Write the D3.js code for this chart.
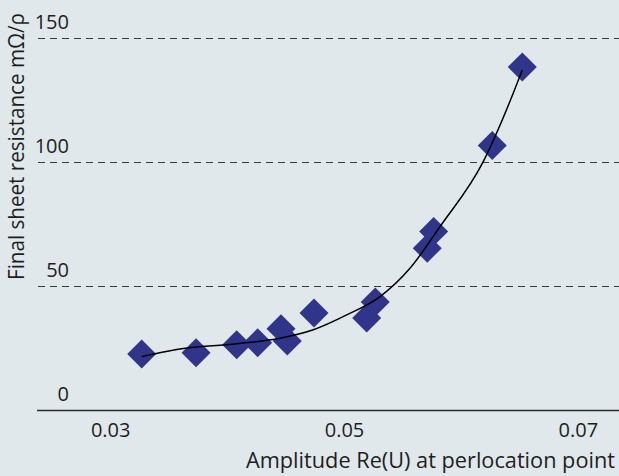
<!DOCTYPE html>
<html>
<head>
<meta charset="utf-8">
<script src="https://cdn.jsdelivr.net/npm/d3@7"></script>
<style>
  html, body { margin: 0; padding: 0; background: #e1e8eb; }
  svg { display: block; }
  text { font-family: "Open Sans", "Noto Sans", sans-serif; fill: #1e1e1e; }
</style>
</head>
<body>
<svg id="chart" width="619" height="476"></svg>
<script>
// Measured points (amplitude Re(U), final sheet resistance)
const amplitude = [0.03265, 0.03730, 0.04078, 0.04257, 0.04457, 0.04511, 0.04739, 0.05190, 0.05263, 0.05708, 0.05763, 0.06264, 0.06521];
const resistance = [22.6, 23.1, 26.3, 27.1, 32.7, 27.8, 39.1, 37.1, 43.5, 65.2, 71.9, 106.6, 138.2];

// Fitted trend line
const fitX = [0.03265, 0.03565, 0.04078, 0.04448, 0.04733, 0.05019, 0.05304, 0.05560, 0.05817, 0.06187, 0.06444, 0.06521];
const fitY = [21.5, 24.4, 26.7, 28.9, 32.3, 38.3, 45.7, 57.1, 73.9, 100.1, 127.7, 137.0];

const xTicks = [0.03, 0.05, 0.07];
const xTickLabels = ["0.03", "0.05", "0.07"];
const yTicks = [0, 50, 100, 150];
const yTickLabels = ["0", "50", "100", "150"];

const xTitle = "Amplitude Re(U) at perlocation point";
const yTitle = "Final sheet resistance mΩ/ρ";

const svg = d3.select("#chart");
const W = 619, H = 476;

const x = d3.scaleLinear().domain([0.03, 0.07]).range([110.7, 578.3]);
const y = d3.scaleLinear().domain([0, 150]).range([410, 37.7]);

svg.append("rect").attr("width", W).attr("height", H).attr("fill", "#e1e8eb");

// gridlines (dashed) for 50,100,150
svg.append("g").selectAll("line")
  .data(yTicks.filter(d => d > 0))
  .join("line")
  .attr("x1", 38).attr("x2", W)
  .attr("y1", d => Math.round(y(d)) + 0.5).attr("y2", d => Math.round(y(d)) + 0.5)
  .attr("stroke", "#3a3a3a").attr("stroke-width", 1.2)
  .attr("stroke-dasharray", "7,5");

// x axis line
svg.append("line")
  .attr("x1", 37).attr("x2", W)
  .attr("y1", y(0) + 0.5).attr("y2", y(0) + 0.5)
  .attr("stroke", "#2a2a2a").attr("stroke-width", 1.5);

// y tick labels
svg.append("g").selectAll("text")
  .data(yTicks)
  .join("text")
  .attr("x", 69)
  .attr("y", d => y(d) - 9)
  .attr("text-anchor", "end")
  .attr("font-size", 20)
  .text((d, i) => yTickLabels[i]);

// x tick labels
svg.append("g").selectAll("text")
  .data(xTicks)
  .join("text")
  .attr("x", d => x(d))
  .attr("y", 437)
  .attr("text-anchor", "middle")
  .attr("font-size", 20)
  .text((d, i) => xTickLabels[i]);

// axis titles
svg.append("text")
  .attr("x", 246).attr("y", 468)
  .attr("font-size", 21)
  .attr("textLength", 369)
  .attr("lengthAdjust", "spacingAndGlyphs")
  .text(xTitle);

svg.append("text")
  .attr("transform", "translate(24,280) rotate(-90)")
  .attr("font-size", 21)
  .attr("textLength", 267)
  .attr("lengthAdjust", "spacingAndGlyphs")
  .text(yTitle);

// markers (diamonds)
const pts = amplitude.map((a, i) => ({ a, r: resistance[i] }));
const sym = d3.symbol().type(d3.symbolSquare).size(14.5 * 14.5 * 2);
svg.append("g").selectAll("path")
  .data(pts)
  .join("path")
  .attr("d", sym)
  .attr("transform", d => `translate(${x(d.a)},${y(d.r)}) rotate(45)`)
  .attr("fill", "#30358a");

// trend curve
const fit = fitX.map((v, i) => [v, fitY[i]]);
svg.append("path")
  .datum(fit)
  .attr("d", d3.line().x(d => x(d[0])).y(d => y(d[1])).curve(d3.curveMonotoneX))
  .attr("fill", "none")
  .attr("stroke", "#000")
  .attr("stroke-width", 1.5);
</script>
</body>
</html>
